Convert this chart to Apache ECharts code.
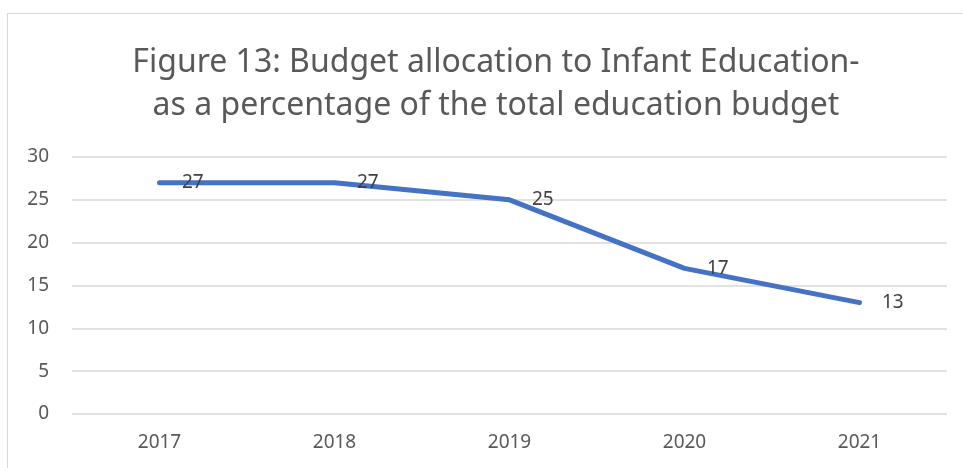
<!DOCTYPE html>
<html>
<head>
<meta charset="utf-8">
<script src="https://cdn.jsdelivr.net/npm/echarts@6/dist/echarts.min.js"></script>
<style>
html,body{margin:0;padding:0;background:#fff;}
#wrap{position:relative;width:963px;height:468px;overflow:hidden;}
#frame{position:absolute;left:7px;top:13px;width:1000px;height:500px;border:1px solid #d9d9d9;box-sizing:border-box;}
#chart{position:absolute;left:0;top:0;width:963px;height:468px;}
</style>
</head>
<body>
<div id="wrap"><div id="frame"></div><div id="chart"></div></div>
<script>
const titleLines = ["Figure 13: Budget allocation to Infant Education-", "as a percentage of the total education budget"];
const categories = ["2017", "2018", "2019", "2020", "2021"];
const values = [27, 27, 25, 17, 13];
const yTicks = {min: 0, max: 30, interval: 5};

const FONT = "'Noto Sans', sans-serif";
const chart = echarts.init(document.getElementById('chart'), null, {renderer: 'canvas'});
chart.setOption({
  animation: false,
  title: {
    text: titleLines.join('\n'),
    left: 491, top: 36, textAlign: 'center',
    textStyle: {fontFamily: FONT, fontSize: 32, fontWeight: 'normal', color: '#595959', lineHeight: 43}
  },
  grid: {left: 72, right: 16, top: 157, bottom: 54},
  xAxis: {
    type: 'category', data: categories, boundaryGap: true,
    axisLine: {show: false}, axisTick: {show: false},
    axisLabel: {fontFamily: FONT, fontSize: 19, color: '#595959', margin: 19}
  },
  yAxis: {
    type: 'value', min: yTicks.min, max: yTicks.max, interval: yTicks.interval,
    axisLine: {show: false}, axisTick: {show: false},
    axisLabel: {fontFamily: FONT, fontSize: 19, color: '#595959', margin: 23},
    splitLine: {lineStyle: {color: '#d9d9d9', width: 1.5}}
  },
  series: [{
    type: 'line', data: values,
    symbol: 'circle', symbolSize: 1, showSymbol: true,
    itemStyle: {color: 'rgba(68,114,196,0)'},
    lineStyle: {color: '#4472C4', width: 5, cap: 'round', join: 'round'},
    label: {show: true, position: 'right', distance: 22, fontFamily: FONT, fontSize: 19, color: '#404040'}
  }]
});
</script>
</body>
</html>
